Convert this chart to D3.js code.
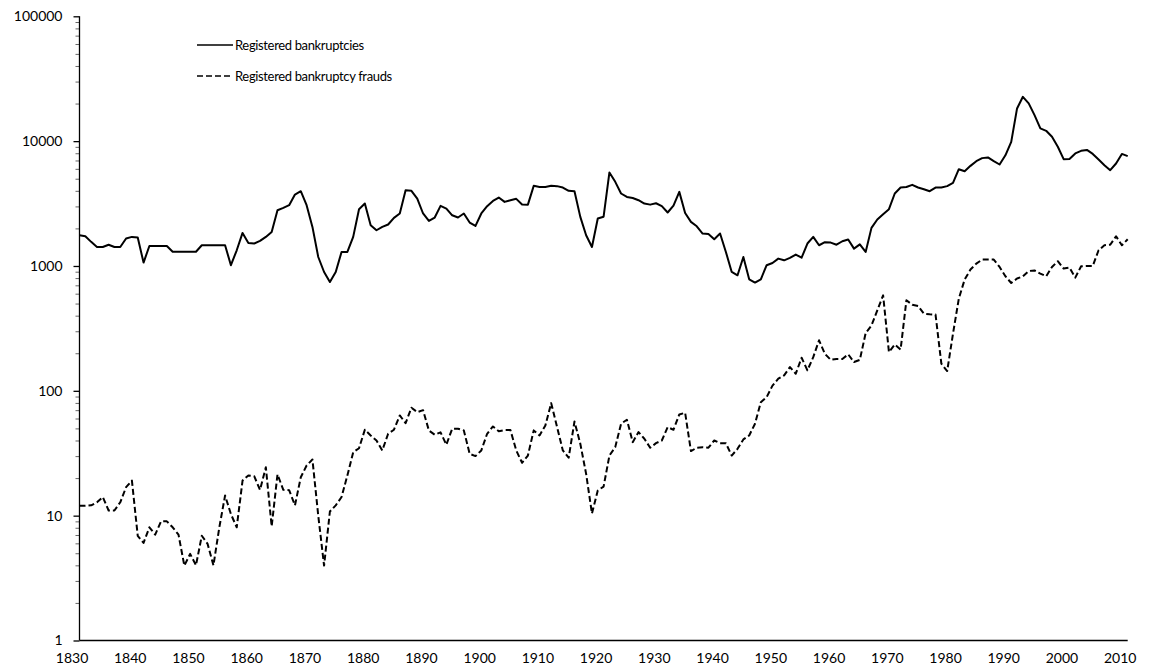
<!DOCTYPE html>
<html>
<head>
<meta charset="utf-8">
<script src="https://cdn.jsdelivr.net/npm/d3@7/dist/d3.min.js"></script>
<style>
  html, body { margin: 0; padding: 0; background: #fff; }
  svg { display: block; }
  text { font-family: "Lato", "Liberation Sans", sans-serif; fill: #000; }
</style>
</head>
<body>
<svg id="chart" width="1151" height="671"></svg>
<script>
const startYear = 1830;
const endYear = 2010;
const years = d3.range(startYear, endYear + 1);

const bankruptcies = [
  1760,1730,1560,1420,1420,1480,1420,1420,1660,1710,
  1690,1065,1446,1446,1446,1446,1300,1300,1300,1300,
  1300,1466,1466,1466,1466,1466,1014,1336,1840,1530,
  1513,1587,1710,1875,2796,2918,3069,3735,3972,3069,
  2056,1180,895,744,895,1295,1295,1710,2850,3165,
  2120,1933,2056,2148,2428,2633,4046,4000,3470,2633,
  2296,2444,3030,2885,2547,2444,2633,2228,2094,2633,
  3013,3320,3535,3260,3363,3450,3105,3100,4385,4300,
  4300,4385,4360,4250,3996,3970,2473,1762,1420,2400,
  2480,5610,4720,3808,3573,3500,3363,3165,3100,3180,
  3013,2681,3050,3924,2660,2254,2080,1820,1800,1637,
  1820,1295,895,842,1180,782,736,782,1014,1057,
  1146,1110,1160,1234,1165,1513,1710,1466,1550,1540,
  1480,1578,1630,1378,1490,1295,2019,2356,2600,2850,
  3808,4254,4290,4465,4250,4120,3972,4250,4250,4360,
  4630,5960,5740,6340,6910,7310,7400,6910,6500,7700,
  9870,18280,22650,20050,16170,12640,12100,10830,9010,7170,
  7200,7970,8360,8500,7900,7130,6420,5850,6620,7900,
  7580
];

const frauds = [
  12,12,12.1,12.8,14.1,11,11,12.8,16.9,19.1,
  6.9,6.05,8.07,7.05,9,9,8.07,7.05,3.98,4.94,
  4,6.9,5.94,4,8,14.5,10.3,8.07,19.1,21,
  20.7,16.1,24.4,8.2,21.4,16.1,16,12.1,20.3,25.2,
  28.2,10,3.98,10.8,12.1,14.1,21,32.2,34.7,48.8,
  43.9,40,33.3,45.3,48.8,63.5,55.1,73.2,67.5,70,
  48.1,44.5,46.5,37,49.7,49.7,48.2,31.3,30,33.3,
  45.3,51.8,47.5,48.5,48.5,33.3,26.5,30.3,48.2,43.9,
  52.8,79.7,51.5,33.3,29.1,56.8,37.7,21.6,10.4,15.9,
  17.1,30.3,35.4,54.5,58.7,38.8,46.7,41.3,35,38.1,
  40,51.2,48.8,64.7,66.7,32.9,35,35.3,35,40,
  38.1,38,30.3,34.3,40.8,43.9,54.5,81.1,89,110,
  125,133,155,137,184,146,186,254,198,177,
  180,180,196,170,177,290,334,441,582,204,
  235,214,531,490,478,415,410,408,165,144,
  287,548,778,936,1045,1125,1125,1125,982,827,
  731,793,827,912,920,869,827,982,1092,953,
  970,807,994,1000,1000,1336,1466,1480,1730,1466,
  1637
];

const xTickLabels = ["1830","1840","1850","1860","1870","1880","1890","1900","1910","1920",
                     "1930","1940","1950","1960","1970","1980","1990","2000","2010"];
const yTickLabels = ["1","10","100","1000","10000","100000"];
const seriesNames = ["Registered bankruptcies", "Registered bankruptcy frauds"];

(function draw() {
  const svg = d3.select("#chart");
  const mLeft = 79.5, mRight = 1127.7, mTop = 16.3, mBottom = 640.5;
  const fontSize = "14px";

  const x = d3.scaleLinear().domain([startYear, endYear]).range([mLeft, mRight]);
  const y = d3.scaleLog().domain([1, 100000]).range([mBottom, mTop]);

  // Y axis
  const majorVals = yTickLabels.map(Number);
  const minorVals = [];
  for (let p = 0; p < 5; p++) for (let k = 2; k <= 9; k++) minorVals.push(k * Math.pow(10, p));

  const yAxisMinor = d3.axisLeft(y).tickValues(minorVals).tickSize(4).tickFormat("");
  const yAxisMajor = d3.axisLeft(y).tickValues(majorVals).tickSize(6).tickPadding(11)
    .tickFormat((d, i) => yTickLabels[i]);

  const gyMinor = svg.append("g").attr("transform", `translate(${mLeft},0)`).call(yAxisMinor);
  gyMinor.select(".domain").remove();
  gyMinor.selectAll("line").attr("stroke", "#666").attr("stroke-width", 1);

  const gy = svg.append("g").attr("transform", `translate(${mLeft},0)`).call(yAxisMajor);
  gy.select(".domain").attr("d", `M0,${mTop}V${mBottom}`).attr("stroke", "#000").attr("stroke-width", 1.3);
  gy.selectAll(".tick line").attr("stroke", "#000").attr("stroke-width", 1.3);
  gy.selectAll(".tick text").style("font-size", fontSize).style("font-family", null);

  // X axis
  const xTickVals = xTickLabels.map(Number);
  const xAxis = d3.axisBottom(x).tickValues(xTickVals).tickSize(0).tickPadding(13)
    .tickFormat((d, i) => xTickLabels[i]);
  const gx = svg.append("g").attr("transform", `translate(0,${mBottom})`).call(xAxis);
  gx.select(".domain").attr("d", `M${mLeft},0H${mRight}`).attr("stroke", "#000").attr("stroke-width", 1.3);
  gx.selectAll(".tick text").style("font-size", fontSize).style("font-family", null)
    .attr("dx", -8);

  // Lines
  const line = d3.line().x((d, i) => x(years[i])).y(d => y(d));

  svg.append("path").datum(bankruptcies)
    .attr("d", line).attr("fill", "none").attr("stroke", "#000")
    .attr("stroke-width", 2).attr("stroke-linejoin", "round");

  svg.append("path").datum(frauds)
    .attr("d", line).attr("fill", "none").attr("stroke", "#000")
    .attr("stroke-width", 2).attr("stroke-dasharray", "6,3").attr("stroke-linejoin", "round");

  // Legend
  const legend = svg.append("g");
  const legRows = [{ y: 45, dash: null }, { y: 76, dash: "6,3" }];
  legRows.forEach((r, i) => {
    legend.append("line").attr("x1", 197).attr("x2", 233).attr("y1", r.y).attr("y2", r.y)
      .attr("stroke", "#000").attr("stroke-width", 1.5)
      .attr("stroke-dasharray", r.dash);
    legend.append("text").attr("x", 235).attr("y", r.y).attr("dy", "0.35em")
      .style("font-size", "13px").style("letter-spacing", "-0.35px").text(seriesNames[i]);
  });
})();
</script>
</body>
</html>
